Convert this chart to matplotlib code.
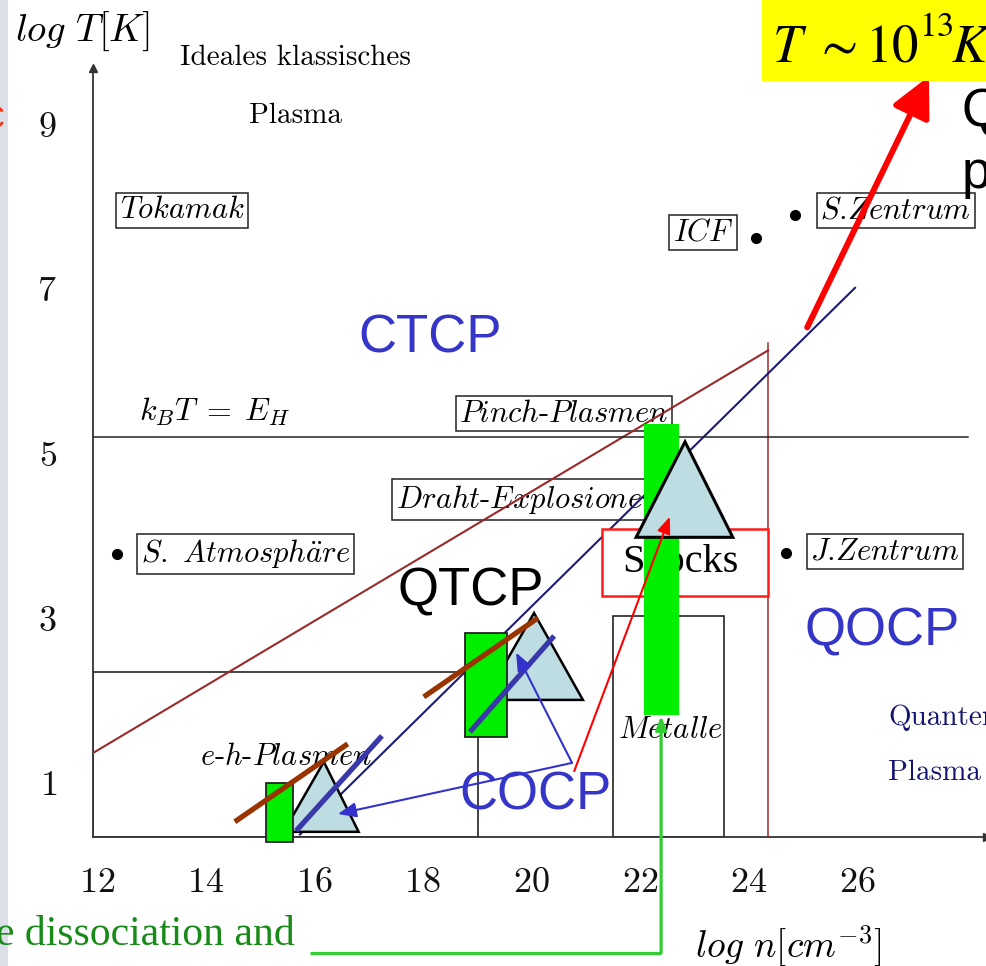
import matplotlib
matplotlib.use("Agg")
import matplotlib.pyplot as plt
from matplotlib.patches import Rectangle, Polygon, FancyArrowPatch

plt.rcParams["mathtext.fontset"] = "cm"

W, H, DPI = 987, 966, 100

# ---- axis frame: log n [cm^-3] horizontally, log T [K] vertically ----
N_MIN, N_MAX = 11.93, 28.39
T_MIN, T_MAX = 0.33, 9.67
x_ticks = [12, 14, 16, 18, 20, 22, 24, 26]
y_ticks = [1, 3, 5, 7, 9]

# ---- regime boundaries ----
gamma_n, gamma_T = [11.93, 24.36], [1.35, 6.24]        # coupling line
degen_n, degen_T = [15.74, 25.96], [0.36, 7.00]        # degeneracy line
ionis_T, ionis_n = 5.19, [11.93, 28.04]                # k_B T = E_H
dens_n, dens_T = 24.36, [0.33, 6.33]                   # density limit

# ---- outlined regions (n0, n1, T0, T1) ----
eh_region = (11.93, 19.02, 0.33, 2.335)
metal_region = (21.50, 23.55, 0.33, 3.01)
shock_region = (21.30, 24.36, 3.257, 4.07)

# ---- green bars (n0, n1, T0, T1) ----
bars_n0 = [22.07, 18.777, 15.112]
bars_n1 = [22.72, 19.551, 15.61]
bars_T0 = [1.813, 1.546, 0.272]
bars_T1 = [5.345, 2.808, 0.988]

# ---- triangles: base left n, base right n, base T, apex n, apex T ----
tri_left = [21.93, 19.13, 15.44]
tri_right = [23.71, 20.95, 16.82]
tri_base = [3.97, 1.995, 0.393]
tri_apex_n = [22.83, 20.05, 16.18]
tri_apex_T = [5.13, 3.05, 1.243]

# ---- short thick segments ----
brown_n = [[14.54, 16.62], [18.02, 20.12]]
brown_T = [[0.515, 1.461], [2.032, 2.990]]
blue_n = [[15.67, 17.25], [18.87, 20.42]]
blue_T = [[0.405, 1.558], [1.607, 2.772]]

# ---- arrows (start n, start T, end n, end T) ----
cocp_arrows = [(20.75, 1.23, 16.44, 0.61), (20.75, 1.23, 19.72, 2.57)]
shock_arrow = (20.79, 1.13, 22.55, 4.22)
qgp_arrow = (25.08, 6.52, 27.32, 9.57)
link_n = [15.92, 22.39, 22.39]
link_T = [-1.075, -1.075, 1.80]

# ---- objects marked by dots ----
dot_n = [12.37, 24.14, 24.85, 24.69]
dot_T = [3.77, 7.61, 7.88, 3.78]

# ---- boxed labels ----
box_labels = [r"$Tokamak$", r"$ICF$", r"$S$.$Zentrum$", r"$S.\ Atmosph\ddot{a}re$",
              r"$Pinch$-$Plasmen$", r"$Draht$-$Explosionen$", r"$J$.$Zentrum$"]
box_n = [13.57, 23.16, 26.71, 14.74, 20.60, 19.94, 26.51]
box_T = [7.94, 7.67, 7.94, 3.77, 5.47, 4.43, 3.80]

fig = plt.figure(figsize=(W / DPI, H / DPI), dpi=DPI)
fig.patch.set_facecolor("white")


def px(x, y):
    return x / W, 1 - y / H


# slide margin strip on the left
fig.patches.append(Rectangle((0, 0), 8 / W, 1, transform=fig.transFigure,
                             fc="#dcdfe8", ec="none", zorder=0))

ax = fig.add_axes([93 / W, (H - 837) / H, (W - 93) / W, (837 - 68) / H])
ax.set_xlim(N_MIN, N_MAX)
ax.set_ylim(T_MIN, T_MAX)
ax.patch.set_alpha(0)
for s in ("top", "right"):
    ax.spines[s].set_visible(False)
for s in ("left", "bottom"):
    ax.spines[s].set_color("#333333")
    ax.spines[s].set_linewidth(1.3)
ax.plot(1, 0, ">", color="#333333", ms=6, transform=ax.transAxes, clip_on=False)
ax.plot(0, 1, "^", color="#333333", ms=6, transform=ax.transAxes, clip_on=False)

ax.set_xticks(x_ticks)
ax.set_xticklabels([f"${v}$" for v in x_ticks])
ax.set_yticks(y_ticks)
ax.set_yticklabels([f"${v}$" for v in y_ticks])
ax.tick_params(axis="both", length=0, labelsize=26, colors="#111111")
ax.tick_params(axis="x", pad=20)
ax.tick_params(axis="y", pad=26)

# boundaries
ax.plot(gamma_n, gamma_T, color="#9a2a2a", lw=1.5, zorder=3)
ax.plot([dens_n, dens_n], dens_T, color="#9a2a2a", lw=1.1, zorder=3)
ax.plot(degen_n, degen_T, color="#1c1c78", lw=1.5, zorder=3)
ax.plot(ionis_n, [ionis_T, ionis_T], color="#222222", lw=1.1, zorder=3)

for (n0, n1, t0, t1) in (eh_region, metal_region):
    ax.add_patch(Rectangle((n0, t0), n1 - n0, t1 - t0, fc="none",
                           ec="#222222", lw=1.2, zorder=2.5))
n0, n1, t0, t1 = shock_region
ax.add_patch(Rectangle((n0, t0), n1 - n0, t1 - t0, fc="white",
                       ec="#ff1a1a", lw=1.8, zorder=3.5))
ax.text((n0 + n1) / 2 - 0.08, (t0 + t1) / 2, "Shocks", fontsize=29,
        family="Liberation Serif", ha="center", va="center", zorder=3.6)

# boxed labels
for lab, n, t in zip(box_labels, box_n, box_T):
    ax.text(n, t, lab, fontsize=22, ha="center", va="center", family="cmr10",
            zorder=2, clip_on=False,
            bbox=dict(boxstyle="square,pad=0.12", fc="white", ec="#222222", lw=1.1))

ax.plot(dot_n, dot_T, "o", color="black", ms=7, zorder=4, clip_on=False)

# plain labels
ax.text(15.48, 1.30, r"$e$-$h$-$Plasmen$", fontsize=22, family="cmr10",
        ha="center", va="center", zorder=2)
ax.text(22.55, 1.63, r"$Metalle$", fontsize=22, family="cmr10",
        ha="center", va="center", zorder=2)
ax.text(14.17, 5.49, r"$k_BT\;=\;E_H$", fontsize=23, ha="center", va="center")
ax.text(15.66, 9.79, "Ideales klassisches", fontsize=21, family="cmr10",
        ha="center", va="center", clip_on=False)
ax.text(15.66, 9.09, "Plasma", fontsize=21, family="cmr10",
        ha="center", va="center")
ax.text(26.57, 1.78, "Quanten", fontsize=21, family="cmr10", color="#141470",
        ha="left", va="center", clip_on=False)
ax.text(26.57, 1.11, "Plasma", fontsize=21, family="cmr10", color="#141470",
        ha="left", va="center", clip_on=False)

sans = "Liberation Sans"
ax.text(18.13, 6.39, "CTCP", fontsize=38, family=sans, color="#3535c8",
        ha="center", va="center")
ax.text(18.89, 3.31, "QTCP", fontsize=38, family=sans, color="black",
        ha="center", va="center", zorder=6)
ax.text(20.07, 0.84, "COCP", fontsize=38, family=sans, color="#3535c8",
        ha="center", va="center", zorder=6)
ax.text(26.46, 2.82, "QOCP", fontsize=38, family=sans, color="#3535c8",
        ha="center", va="center")

# triangles and bars
tri_z = [5.5, 4, 4]
for i in range(3):
    pts = [(tri_left[i], tri_base[i]), (tri_right[i], tri_base[i]),
           (tri_apex_n[i], tri_apex_T[i])]
    ax.add_patch(Polygon(pts, closed=True, fc="#bedde2", ec="black",
                         lw=2.2 if i == 0 else 1.8, zorder=tri_z[i],
                         clip_on=False))
for i in range(3):
    ax.add_patch(Rectangle((bars_n0[i], bars_T0[i]), bars_n1[i] - bars_n0[i],
                           bars_T1[i] - bars_T0[i], fc="#00ee00",
                           ec="none" if i == 0 else "#222222", lw=1.3,
                           zorder=5, clip_on=False))

for n, t in zip(brown_n, brown_T):
    ax.plot(n, t, color="#993300", lw=3.8, zorder=6, solid_capstyle="butt")
for n, t in zip(blue_n, blue_T):
    ax.plot(n, t, color="#3838a8", lw=3.8, zorder=6, solid_capstyle="butt")


def arrow(seg, color, lw, ms, hl, hw):
    a = FancyArrowPatch((seg[0], seg[1]), (seg[2], seg[3]),
                        arrowstyle=f"-|>,head_length={hl},head_width={hw}",
                        mutation_scale=ms, color=color, lw=lw,
                        shrinkA=0, shrinkB=0, zorder=7, clip_on=False)
    ax.add_patch(a)


for seg in cocp_arrows:
    arrow(seg, "#3333cc", 1.5, 10, 1.1, 0.45)
arrow(shock_arrow, "#ff0000", 1.5, 10, 1.0, 0.4)
arrow(qgp_arrow, "#ff0000", 4.3, 22, 1.1, 0.55)

ax.plot(link_n[:2], link_T[:2], color="#33cc33", lw=2.3, clip_on=False,
        zorder=7, solid_capstyle="butt")
arrow((link_n[1], link_T[1], link_n[2], link_T[2]), "#33cc33", 2.3, 8, 1.0, 0.4)

# texts around the frame
fig.text(*px(82, 31), r"$log\ T[K]$", fontsize=28, ha="center", va="center")
fig.text(*px(788, 946), r"$log\ n[cm^{-3}]$", fontsize=27, ha="center",
         va="center")
fig.patches.append(Rectangle(px(762, 81), (W - 762) / W, 81 / H,
                             transform=fig.transFigure, fc="#ffff00",
                             ec="none", zorder=1))
fig.text(*px(772, 62), r"$T\ \sim 10$", fontsize=38,
         math_fontfamily="stix", ha="left", va="baseline", zorder=2)
fig.text(*px(919, 36), r"$13$", fontsize=25,
         math_fontfamily="stix", ha="left", va="baseline", zorder=2)
fig.text(*px(951, 62), r"$K$", fontsize=38,
         math_fontfamily="stix", ha="left", va="baseline", zorder=2)
fig.text(*px(962, 125), "Quark-Gluon-", fontsize=38, family=sans,
         ha="left", va="baseline")
fig.text(*px(962, 188), "plasma", fontsize=38, family=sans,
         ha="left", va="baseline")
fig.text(*px(295, 935), "e dissociation and", fontsize=30,
         family="Liberation Serif", color="#178a17", ha="right", va="center")
fig.text(*px(4, 120), "C", fontsize=22, family=sans, color="#ff2a00",
         ha="right", va="center")

fig.savefig("out.png", dpi=DPI)
